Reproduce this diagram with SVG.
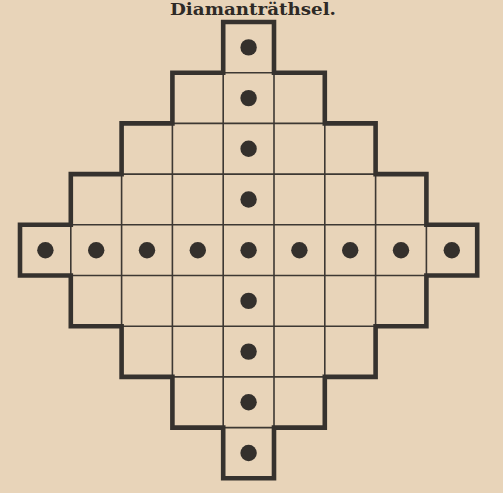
<svg xmlns="http://www.w3.org/2000/svg" width="503" height="493" viewBox="0 0 503 493">
  <style>
    .bg { fill: #e8d4b9; }
    .thin { stroke: #3d3833; stroke-width: 1.6; fill: none; }
    .thick { stroke: #36322e; stroke-width: 4.6; fill: none; stroke-linejoin: miter; }
    .dot { fill: #34302c; }
    .title { font-family: "DejaVu Serif", "Liberation Serif", serif; font-weight: bold; font-size: 17px; fill: #2e2a26; }
  </style>
  <rect class="bg" x="0" y="0" width="503" height="493"/>
  <g id="title">
    <text class="title" x="253" y="15" text-anchor="middle" textLength="166" lengthAdjust="spacingAndGlyphs">Diamanträthsel.</text>
  </g>
  <g id="grid-lines" class="thin">
    <path d="M223.2 72.7H274 M172.4 123.4H324.8 M121.6 174.1H375.6 M70.8 224.8H426.4 M70.8 275.5H426.4 M121.6 326.2H375.6 M172.4 376.9H324.8 M223.2 427.6H274"/>
    <path d="M223.2 72.7V427.6 M274 72.7V427.6 M172.4 123.4V376.9 M324.8 123.4V376.9 M121.6 174.1V326.2 M375.6 174.1V326.2 M70.8 224.8V275.5 M426.4 224.8V275.5"/>
  </g>
  <g id="outline">
    <path class="thick" d="M223.2 22H274V72.7H324.8V123.4H375.6V174.1H426.4V224.8H477.2V275.5H426.4V326.2H375.6V376.9H324.8V427.6H274V478.3H223.2V427.6H172.4V376.9H121.6V326.2H70.8V275.5H20V224.8H70.8V174.1H121.6V123.4H172.4V72.7H223.2Z"/>
  </g>
  <g id="dots">
    <circle class="dot" cx="248.6" cy="47.4" r="8.2"/>
    <circle class="dot" cx="248.6" cy="98.1" r="8.2"/>
    <circle class="dot" cx="248.6" cy="148.8" r="8.2"/>
    <circle class="dot" cx="248.6" cy="199.5" r="8.2"/>
    <circle class="dot" cx="248.6" cy="300.9" r="8.2"/>
    <circle class="dot" cx="248.6" cy="351.6" r="8.2"/>
    <circle class="dot" cx="248.6" cy="402.3" r="8.2"/>
    <circle class="dot" cx="248.6" cy="453" r="8.2"/>
    <circle class="dot" cx="45.4" cy="250.2" r="8.2"/>
    <circle class="dot" cx="96.2" cy="250.2" r="8.2"/>
    <circle class="dot" cx="147" cy="250.2" r="8.2"/>
    <circle class="dot" cx="197.8" cy="250.2" r="8.2"/>
    <circle class="dot" cx="248.6" cy="250.2" r="8.2"/>
    <circle class="dot" cx="299.4" cy="250.2" r="8.2"/>
    <circle class="dot" cx="350.2" cy="250.2" r="8.2"/>
    <circle class="dot" cx="401" cy="250.2" r="8.2"/>
    <circle class="dot" cx="451.8" cy="250.2" r="8.2"/>
  </g>
</svg>
